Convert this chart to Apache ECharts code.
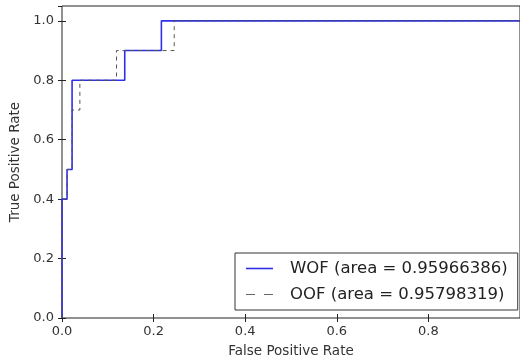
<!DOCTYPE html>
<html>
<head>
<meta charset="utf-8">
<script src="https://cdn.jsdelivr.net/npm/echarts@6/dist/echarts.min.js"></script>
<style>
  html, body { margin: 0; padding: 0; background: #fff; }
  #chart { width: 520px; height: 363px; }
</style>
</head>
<body>
<div id="chart"></div>
<script>
// ROC curve data
const wofName = 'WOF (area = 0.95966386)';
const oofName = 'OOF (area = 0.95798319)';
const wofFpr = [0, 0, 0.011, 0.011, 0.022, 0.022, 0.137, 0.137, 0.217, 0.217, 1.0];
const wofTpr = [0, 0.4, 0.4, 0.5, 0.5, 0.8, 0.8, 0.9, 0.9, 1.0, 1.0];
const oofFpr = [0, 0, 0.011, 0.011, 0.022, 0.022, 0.039, 0.039, 0.119, 0.119, 0.245, 0.245, 1.0];
const oofTpr = [0, 0.4, 0.4, 0.5, 0.5, 0.7, 0.7, 0.8, 0.8, 0.9, 0.9, 1.0, 1.0];
const xTicks = [0, 0.2, 0.4, 0.6, 0.8];
const yTicks = [0, 0.2, 0.4, 0.6, 0.8, 1.0];

const zip = (a, b) => a.map((v, i) => [v, b[i]]);
const font = 'DejaVu Sans';
const tickCommon = { show: true, inside: true, length: 4, lineStyle: { color: '#222', width: 1 } };

const chart = echarts.init(document.getElementById('chart'), null, { renderer: 'canvas' });
chart.setOption({
  backgroundColor: '#fff',
  animation: false,
  grid: {
    left: 62, top: 6, width: 461, height: 312,
    show: true, borderColor: '#222', borderWidth: 1, backgroundColor: '#fff'
  },
  xAxis: [{
    type: 'value', min: 0, max: 1, interval: 0.2, position: 'bottom',
    name: 'False Positive Rate', nameLocation: 'middle', nameGap: 26,
    nameTextStyle: { fontFamily: font, fontSize: 13.5, color: '#333' },
    axisLine: { show: false }, splitLine: { show: false },
    axisTick: tickCommon,
    axisLabel: { fontFamily: font, fontSize: 13, color: '#333', margin: 7, showMaxLabel: false,
      formatter: v => xTicks.some(t => Math.abs(t - v) < 1e-9) ? v.toFixed(1) : '' }
  }, {
    type: 'value', min: 0, max: 1, interval: 0.2, position: 'top',
    axisLine: { show: false }, splitLine: { show: false },
    axisTick: tickCommon, axisLabel: { show: false }
  }],
  yAxis: [{
    type: 'value', min: 0, max: 1.05, interval: 0.2, position: 'left',
    name: 'True Positive Rate', nameLocation: 'middle', nameGap: 40,
    nameTextStyle: { fontFamily: font, fontSize: 13.5, color: '#333' },
    axisLine: { show: false }, splitLine: { show: false },
    axisTick: tickCommon,
    axisLabel: { fontFamily: font, fontSize: 13, color: '#333', margin: 8, showMaxLabel: false,
      formatter: v => yTicks.some(t => Math.abs(t - v) < 1e-9) ? v.toFixed(1) : '' }
  }, {
    type: 'value', min: 0, max: 1.05, interval: 0.2, position: 'right',
    axisLine: { show: false }, splitLine: { show: false },
    axisTick: tickCommon, axisLabel: { show: false }
  }],
  legend: {
    orient: 'vertical', left: 235, top: 253,
    padding: [6, 10, 6, 11], itemGap: 7,
    itemWidth: 27, itemHeight: 1.6,
    backgroundColor: '#fff', borderColor: '#333', borderWidth: 1,
    textStyle: { fontFamily: font, fontSize: 16.5, color: '#222', padding: [0, 0, 0, 12], lineHeight: 19 },
    data: [
      { name: wofName, icon: 'rect', itemStyle: { color: '#2f2fe8' } },
      { name: oofName, icon: 'path://M0,0h9v1H0z M18,0h9v1H18z', itemStyle: { color: '#666' } }
    ]
  },
  series: [{
    name: wofName, type: 'line', data: zip(wofFpr, wofTpr),
    symbol: 'none', showSymbol: false, clip: true,
    lineStyle: { color: '#2f2fe8', width: 1.6 },
    itemStyle: { color: '#2f2fe8' }
  }, {
    name: oofName, type: 'line', data: zip(oofFpr, oofTpr),
    symbol: 'none', showSymbol: false, clip: true,
    lineStyle: { color: '#555', width: 1, type: [4, 4] },
    itemStyle: { color: '#555' }
  }]
});
</script>
</body>
</html>
